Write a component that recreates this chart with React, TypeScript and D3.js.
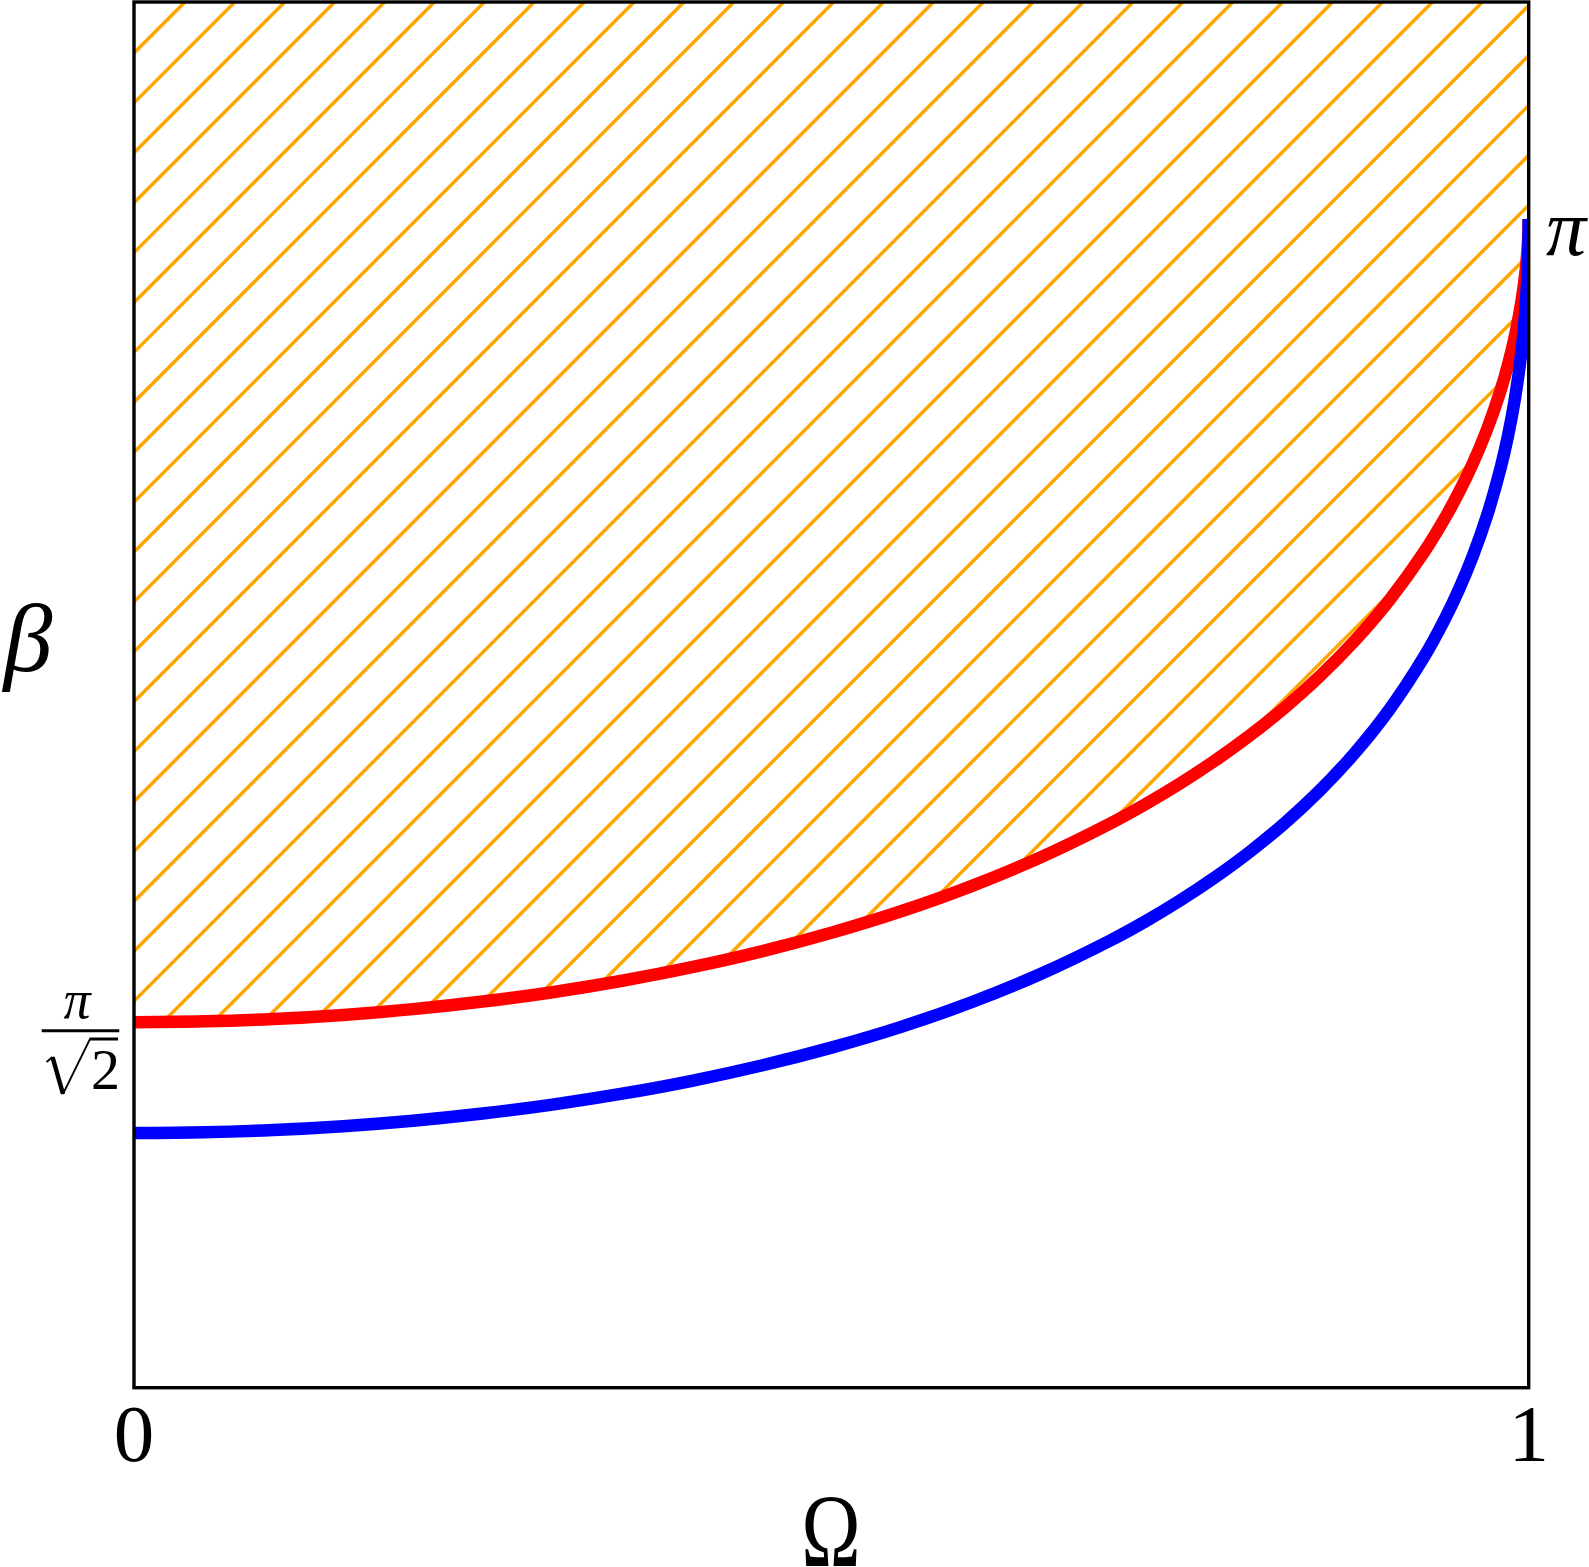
import React from "react";
import * as d3 from "d3";

// Ω samples (shared by both curves)
const OMEGA = [0, 0.05, 0.1, 0.15, 0.2, 0.25, 0.3, 0.35, 0.4, 0.45, 0.5, 0.55, 0.6, 0.65, 0.7, 0.725, 0.75, 0.775, 0.8, 0.825, 0.85, 0.875, 0.9, 0.925, 0.94, 0.95, 0.96, 0.97, 0.98, 0.985, 0.99, 0.995, 0.998, 0.9995, 1];
// β of the red (upper) boundary
const RED_BETA = [2.2214, 2.2224, 2.2251, 2.2298, 2.2364, 2.2451, 2.2558, 2.2689, 2.2844, 2.3026, 2.3239, 2.3485, 2.3771, 2.4103, 2.4491, 2.471, 2.4949, 2.521, 2.5498, 2.5817, 2.6174, 2.658, 2.7047, 2.76, 2.7991, 2.8286, 2.8618, 2.9, 2.946, 2.9736, 3.0065, 3.049, 3.0857, 3.1159, 3.1416];
// β of the blue (lower) curve
const BLUE_BETA = [2.0944, 2.0953, 2.0979, 2.1023, 2.1086, 2.1168, 2.127, 2.1395, 2.1543, 2.1718, 2.1923, 2.2161, 2.244, 2.2766, 2.315, 2.3368, 2.3608, 2.3873, 2.4166, 2.4494, 2.4866, 2.5293, 2.5794, 2.64, 2.6838, 2.7173, 2.7558, 2.8011, 2.8573, 2.892, 2.9346, 2.9922, 3.0453, 3.0927, 3.1416];

const X_TICKS = [0, 1];
const X_TICK_LABELS = ["0", "1"];
const X_DOMAIN = [0, 1];
const Y_DOMAIN = [1.8027, 3.3902];

const W = 1589;
const H = 1567;
const L = 134, R = 1528.7, T = 2, B = 1387.7;

export default function App() {
  const x = d3.scaleLinear().domain(X_DOMAIN).range([L, R]);
  const y = d3.scaleLinear().domain(Y_DOMAIN).range([B, T]);

  const red = OMEGA.map((o, i) => [o, RED_BETA[i]] as [number, number]);
  const blue = OMEGA.map((o, i) => [o, BLUE_BETA[i]] as [number, number]);

  const curve = d3.curveCatmullRom.alpha(0.5);
  const line = d3.line<[number, number]>().x(d => x(d[0])).y(d => y(d[1])).curve(curve);
  const area = d3.area<[number, number]>().x(d => x(d[0])).y0(T).y1(d => y(d[1])).curve(curve);

  const step = 49.9;
  const hatch = d3.range(187 - step * 4, R + B + step, step);

  const serif = "'Liberation Serif', 'DejaVu Serif', serif";

  return (
    <svg width={W} height={H} style={{ position: "absolute", left: 0, top: 0, background: "#fff" }} xmlns="http://www.w3.org/2000/svg">
      <defs>
        <clipPath id="plot">
          <rect x={L} y={T} width={R - L} height={B - T} />
        </clipPath>
        <clipPath id="hatchRegion">
          <path d={area(red) || ""} />
        </clipPath>
      </defs>
      <rect x={0} y={0} width={W} height={H} fill="#fff" />
      <g clipPath="url(#plot)">
        <g clipPath="url(#hatchRegion)">
          {hatch.map((c, i) => (
            <line key={i} x1={c - 1700} y1={1700} x2={c} y2={0} stroke="#ffa500" strokeWidth={3.5} />
          ))}
        </g>
        <path d={line(red) || ""} fill="none" stroke="#ff0000" strokeWidth={12.5} />
        <path d={line(blue) || ""} fill="none" stroke="#0000ff" strokeWidth={12.5} />
      </g>
      <rect x={L} y={T} width={R - L} height={B - T} fill="none" stroke="#000" strokeWidth={3.4} />

      {X_TICKS.map((t, i) => (
        <text key={i} x={x(t)} y={1461} textAnchor="middle" fontFamily={serif} fontSize={81} fill="#000">
          {X_TICK_LABELS[i]}
        </text>
      ))}
      <text transform="translate(831,1566) scale(1,1.3)" textAnchor="middle" fontFamily={serif} fontSize={80} fill="#000">Ω</text>
      <text x={28} y={671} textAnchor="middle" fontFamily={serif} fontStyle="italic" fontSize={98} fill="#000">β</text>

      {/* π at top right */}
      <text x={1546} y={255} textAnchor="start" fontFamily={serif} fontStyle="italic" fontSize={80} fill="#000">π</text>

      {/* π / √2 */}
      <text x={77} y={1018} textAnchor="middle" fontFamily={serif} fontStyle="italic" fontSize={54} fill="#000">π</text>
      <line x1={41.7} x2={119.3} y1={1030.7} y2={1030.7} stroke="#000" strokeWidth={3} />
      <line x1={46.5} y1={1062} x2={52.5} y2={1057} stroke="#000" strokeWidth={1.8} />
      <line x1={52.5} y1={1057} x2={63} y2={1094} stroke="#000" strokeWidth={4.5} />
      <line x1={63} y1={1094} x2={90} y2={1039} stroke="#000" strokeWidth={1.8} />
      <line x1={89.5} y1={1039} x2={118} y2={1039} stroke="#000" strokeWidth={3} />
      <text x={105.5} y={1089} textAnchor="middle" fontFamily={serif} fontSize={58} fill="#000">2</text>
    </svg>
  );
}
